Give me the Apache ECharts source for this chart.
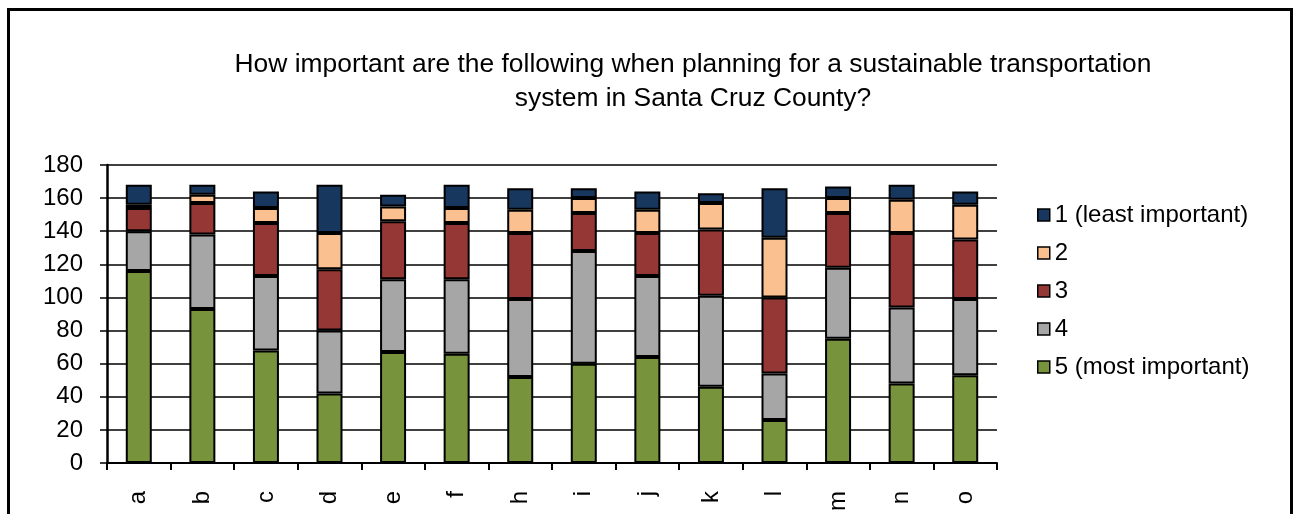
<!DOCTYPE html>
<html>
<head>
<meta charset="utf-8">
<script src="https://cdn.jsdelivr.net/npm/echarts@6/dist/echarts.min.js"></script>
<style>html,body{margin:0;padding:0;background:#fff;}#c{width:1296px;height:514px;}</style>
</head>
<body>
<div id="c"></div>
<script>
const categories = ['a','b','c','d','e','f','h','i','j','k','l','m','n','o'];
const seriesNames = ['1 (least important)','2','3','4','5 (most important)'];
const s5 = [116, 93, 68, 42, 67, 66, 52, 60, 64, 46, 26, 75, 48, 53];
const s4 = [24, 45, 45, 38, 44, 45, 47, 68, 49, 55, 28, 43, 46, 46];
const s3 = [14, 19, 32, 37, 35, 34, 40, 23, 26, 40, 46, 33, 45, 36];
const s2 = [2, 5, 9, 22, 9, 9, 14, 9, 14, 16, 36, 9, 20, 21];
const s1 = [12, 6, 10, 29, 7, 14, 13, 6, 11, 6, 30, 7, 9, 8];
const yTicks = [0,20,40,60,80,100,120,140,160,180];
const colors = {'1 (least important)':'#17375E','2':'#FAC090','3':'#953735','4':'#A6A6A6','5 (most important)':'#77933C'};
const FONT = '"Liberation Sans", Arial, sans-serif';

const chart = echarts.init(document.getElementById('c'), null, {renderer:'canvas'});
const stackData = [[seriesNames[4], s5],[seriesNames[3], s4],[seriesNames[2], s3],[seriesNames[1], s2],[seriesNames[0], s1]];
chart.setOption({
  animation:false,
  backgroundColor:'#fff',
  title:{
    text:'How important are the following when planning for a sustainable transportation\nsystem in Santa Cruz County?',
    left:688, top:43, textAlign:'center',
    textStyle:{fontFamily:FONT, fontSize:26.4, fontWeight:'normal', color:'#000', lineHeight:34}
  },
  graphic:[{type:'rect', shape:{x:8.5,y:9.5,width:1283,height:540}, style:{fill:'none', stroke:'#000', lineWidth:3}, silent:true}],
  legend:{
    orient:'vertical', left:1032, top:198, itemGap:14, itemWidth:12, itemHeight:12, icon:'rect',
    data:seriesNames,
    textStyle:{fontFamily:FONT, fontSize:24, color:'#000'},
    itemStyle:{borderColor:'#000', borderWidth:1.5}
  },
  grid:{left:107, right:299, top:165, bottom:50, containLabel:false},
  xAxis:{
    type:'category', data:categories,
    axisLine:{lineStyle:{color:'#000', width:2}},
    axisTick:{show:true, length:7, lineStyle:{color:'#000', width:2}},
    axisLabel:{rotate:90, margin:28, fontFamily:FONT, fontSize:24, color:'#000'}
  },
  yAxis:{
    type:'value', min:yTicks[0], max:yTicks[yTicks.length-1], interval:20,
    axisLine:{show:true, lineStyle:{color:'#000', width:2.5}},
    axisTick:{show:true, length:7, lineStyle:{color:'#000', width:1.5}},
    axisLabel:{margin:24, fontFamily:FONT, fontSize:24, color:'#000'},
    splitLine:{lineStyle:{color:'#000', width:1.5}}
  },
  series: stackData.map(([name, data]) => ({
    name, type:'bar', stack:'total', data, barWidth:26,
    itemStyle:{color:colors[name], borderColor:'#000', borderWidth:2}
  }))
});
</script>
</body>
</html>
